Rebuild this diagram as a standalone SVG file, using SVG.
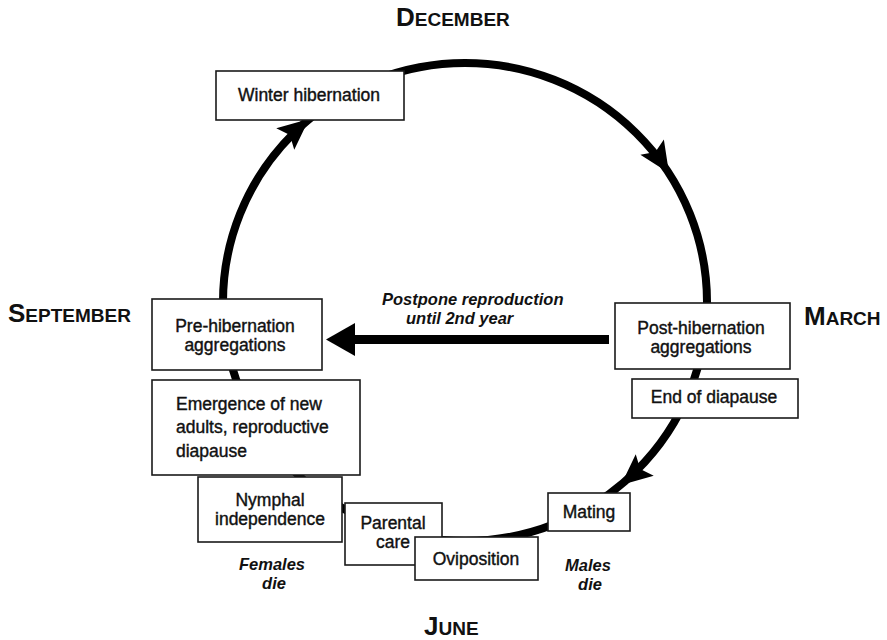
<svg xmlns="http://www.w3.org/2000/svg" xmlns:xlink="http://www.w3.org/1999/xlink" width="887" height="640" viewBox="0 0 887 640">
<style>
.box{fill:#fff;stroke:#1a1a1a;stroke-width:1.6}
.t{font-family:"Liberation Sans",Arial,sans-serif;font-size:17.5px;fill:#111;stroke:#111;stroke-width:0.4;text-anchor:middle}
.tl{text-anchor:start}
.it{font-family:"Liberation Sans",Arial,sans-serif;font-size:16.5px;font-style:italic;font-weight:bold;fill:#111;text-anchor:middle}
.m{font-family:"Liberation Sans",Arial,sans-serif;font-weight:bold;font-size:19px;fill:#111}
.big{font-size:26px}
.cyc{fill:none;stroke:#000;stroke-width:8}
</style>
<defs>
<path id="ah" d="M0,0 L-31,-14 L-25,0 L-31,14 Z" fill="#000"/>
</defs>
<rect width="887" height="640" fill="#fff"/>
<g id="connectors">
<ellipse class="cyc" cx="465" cy="302" rx="242" ry="239"/>
<use xlink:href="#ah" transform="translate(309,119) rotate(-40)"/>
<use xlink:href="#ah" transform="translate(669,173) rotate(57)"/>
<use xlink:href="#ah" transform="translate(621,485) rotate(140)"/>
<rect x="350" y="335" width="259" height="9" fill="#000"/>
<polygon points="326,339.5 355,323 355,356" fill="#000"/>
</g>
<g id="labels">
<text class="m" x="396" y="26"><tspan class="big">D</tspan>ECEMBER</text>
<text class="m" x="8" y="322"><tspan class="big">S</tspan>EPTEMBER</text>
<text class="m" x="804" y="325"><tspan class="big">M</tspan>ARCH</text>
<text class="m" x="424" y="635"><tspan class="big">J</tspan>UNE</text>
<text class="it" x="382" y="305" style="text-anchor:start">Postpone reproduction</text>
<text class="it" x="406" y="324" style="text-anchor:start">until 2nd year</text>
<text class="it" x="272" y="570">Females</text>
<text class="it" x="274" y="589">die</text>
<text class="it" x="588" y="571">Males</text>
<text class="it" x="590" y="590">die</text>
</g>
<g id="winter">
<rect class="box" x="216" y="71" width="188" height="49"/>
<text class="t" x="309" y="101">Winter hibernation</text>
</g>
<g id="prehib">
<rect class="box" x="152" y="299" width="170" height="71"/>
<text class="t" x="235" y="332">Pre-hibernation</text>
<text class="t" x="235" y="351">aggregations</text>
</g>
<g id="emergence">
<rect class="box" x="152" y="380" width="208" height="95"/>
<text class="t tl" x="176" y="410">Emergence of new</text>
<text class="t tl" x="176" y="433">adults, reproductive</text>
<text class="t tl" x="176" y="457">diapause</text>
</g>
<g id="nymphal">
<rect class="box" x="198" y="477" width="144" height="65"/>
<text class="t" x="270" y="506">Nymphal</text>
<text class="t" x="270" y="525">independence</text>
</g>
<g id="parental">
<rect class="box" x="345" y="503" width="97" height="62"/>
<text class="t" x="393" y="529">Parental</text>
<text class="t" x="393" y="548">care</text>
</g>
<g id="oviposition">
<rect class="box" x="415" y="537" width="123" height="43"/>
<text class="t" x="476" y="565">Oviposition</text>
</g>
<g id="mating">
<rect class="box" x="548" y="493" width="82" height="38"/>
<text class="t" x="589" y="518">Mating</text>
</g>
<g id="posthib">
<rect class="box" x="615" y="303" width="175" height="66"/>
<text class="t" x="701" y="334">Post-hibernation</text>
<text class="t" x="701" y="353">aggregations</text>
</g>
<g id="enddiapause">
<rect class="box" x="632" y="379" width="166" height="39"/>
<text class="t" x="714" y="403">End of diapause</text>
</g>
</svg>
